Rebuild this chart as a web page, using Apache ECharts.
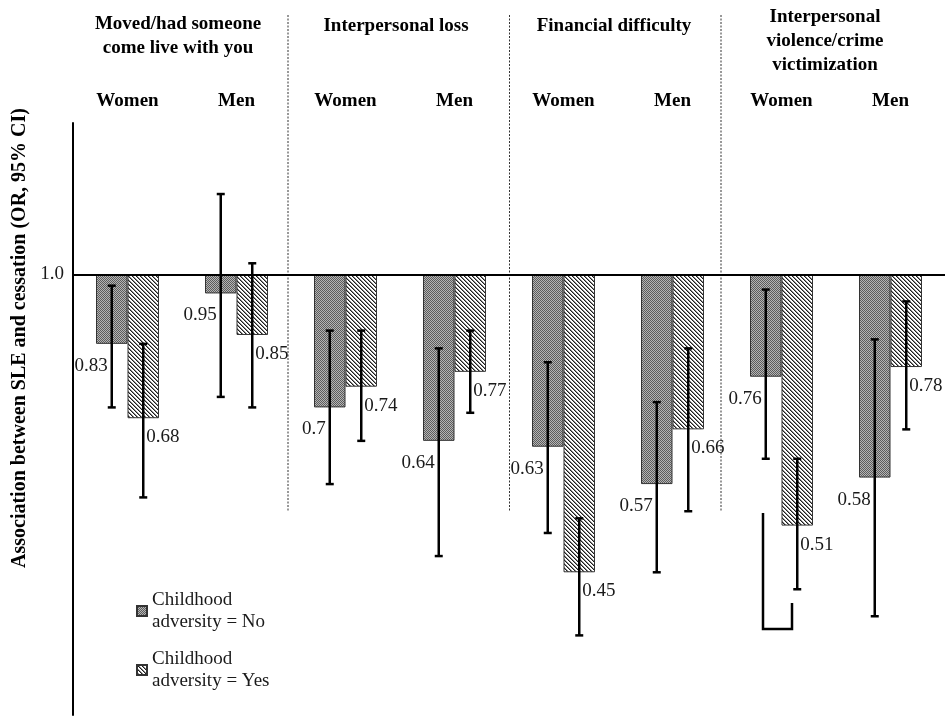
<!DOCTYPE html>
<html>
<head>
<meta charset="utf-8">
<script src="https://cdn.jsdelivr.net/npm/echarts@6/dist/echarts.min.js"></script>
<style>
  html, body { margin: 0; padding: 0; background: #fff; }
  #chart { width: 951px; height: 724px; }
</style>
</head>
<body>
<div id="chart"></div>
<script>
// Stressful-life-event categories (panel headers) and the sex groups under them
const panels = [
  'Moved/had someone\ncome live with you',
  'Interpersonal loss',
  'Financial difficulty',
  'Interpersonal\nviolence/crime\nvictimization'
];
const groups = ['Women', 'Men', 'Women', 'Men', 'Women', 'Men', 'Women', 'Men'];

// Odds ratios by childhood adversity
const orNo  = [0.83, 0.95, 0.7, 0.64, 0.63, 0.57, 0.76, 0.58];
const orYes = [0.68, 0.85, 0.74, 0.77, 0.45, 0.66, 0.51, 0.78];

// 95% confidence intervals
const ciNoLow   = [0.70, 0.72, 0.57, 0.47, 0.50, 0.45, 0.61, 0.40];
const ciNoHigh  = [0.97, 1.24, 0.86, 0.82, 0.79, 0.71, 0.96, 0.84];
const ciYesLow  = [0.55, 0.70, 0.64, 0.69, 0.38, 0.53, 0.43, 0.66];
const ciYesHigh = [0.83, 1.03, 0.86, 0.86, 0.52, 0.82, 0.61, 0.93];

// Reference line / only labelled tick on the log axis
const refValue = 1;
const refLabel = '1.0';

const seriesNames = ['Childhood\nadversity = No', 'Childhood\nadversity = Yes'];

const SERIF = "'Liberation Serif', 'DejaVu Serif', 'Times New Roman', serif";
const BAR_W = 31.5;
const CAP = 4;

// Small repeating textures for the bar fills
function makePattern(size, pick) {
  const c = document.createElement('canvas');
  c.width = size; c.height = size;
  const ctx = c.getContext('2d');
  const img = ctx.createImageData(size, size);
  for (let y = 0; y < size; y++) {
    for (let x = 0; x < size; x++) {
      const v = pick(x, y);
      const i = (y * size + x) * 4;
      img.data[i] = v; img.data[i + 1] = v; img.data[i + 2] = v; img.data[i + 3] = 255;
    }
  }
  ctx.putImageData(img, 0, 0);
  return { image: c, repeat: 'repeat' };
}
// fine dotted grey
const dotFill = makePattern(2, (x, y) => ((x + y) % 2 === 0 ? 0x5c : 0xb4));
// "\" diagonal hatching
const hatchFill = makePattern(4, (x, y) => {
  const d = ((x - y) % 4 + 4) % 4;
  return d === 0 ? 0x1e : d === 1 ? 0x8a : 0xff;
});

function errorBars(side) {
  return function (params, api) {
    const idx = api.value(0);
    const cx = api.coord([idx, refValue])[0] + side * BAR_W / 2;
    const yLo = api.coord([idx, api.value(1)])[1];
    const yHi = api.coord([idx, api.value(2)])[1];
    const style = { stroke: '#000', lineWidth: 2.5, fill: null };
    return {
      type: 'group',
      children: [
        { type: 'line', shape: { x1: cx, y1: yHi, x2: cx, y2: yLo }, style },
        { type: 'line', shape: { x1: cx - CAP, y1: yHi, x2: cx + CAP, y2: yHi }, style },
        { type: 'line', shape: { x1: cx - CAP, y1: yLo, x2: cx + CAP, y2: yLo }, style }
      ]
    };
  };
}

const ciNoData = groups.map((g, i) => [i, ciNoLow[i], ciNoHigh[i]]);
const ciYesData = groups.map((g, i) => [i, ciYesLow[i], ciYesHigh[i]]);

const valueLabel = {
  show: true,
  position: 'bottom',
  distance: 0,
  verticalAlign: 'middle',
  fontFamily: SERIF,
  fontSize: 19,
  color: '#1a1a1a',
  formatter: p => String(p.value)
};

// header text boxes are bottom-anchored; bottom padding lifts the shorter ones
const headerPadding = [[0, 8, 17, 0], [0, 8, 39, 0], [0, 8, 39, 0], [0, 22, 0, 0]];

const chart = echarts.init(document.getElementById('chart'), null, { renderer: 'canvas' });

// panel divider lines (dashed)
const dividerXs = [288, 509.5, 721];
const dividers = dividerXs.map(x => ({
  type: 'line',
  shape: { x1: x, y1: 15, x2: x, y2: 512 },
  style: { stroke: '#333', lineWidth: 1, lineDash: [2, 1.5] },
  z: 1
}));

chart.setOption({
  animation: false,
  backgroundColor: '#fff',
  grid: { left: 73, right: 6, top: 123, bottom: 9, containLabel: false, outerBoundsMode: 'none' },
  legend: {
    data: seriesNames,
    orient: 'vertical',
    left: 131,
    top: 573,
    itemWidth: 10,
    itemHeight: 10,
    itemGap: -7,
    icon: 'rect',
    selectedMode: false,
    textStyle: {
      fontFamily: SERIF,
      fontSize: 19,
      lineHeight: 22,
      color: '#1a1a1a',
      padding: [22, 0, 0, 0]
    }
  },
  xAxis: [
    {
      type: 'category',
      data: groups,
      position: 'top',
      axisLine: { show: false },
      axisTick: { show: false },
      axisLabel: {
        interval: 0,
        margin: 12,
        fontFamily: SERIF,
        fontWeight: 'bold',
        fontSize: 19,
        color: '#000'
      }
    },
    {
      type: 'category',
      data: panels.map((p, i) => ({ value: p, textStyle: { padding: headerPadding[i] } })),
      position: 'top',
      axisLine: { show: false },
      axisTick: { show: false },
      axisLabel: {
        interval: 0,
        margin: 46,
        lineHeight: 24,
        fontFamily: SERIF,
        fontWeight: 'bold',
        fontSize: 19,
        color: '#000'
      }
    }
  ],
  yAxis: {
    type: 'log',
    logBase: 10,
    min: 0.307,
    max: 1.5,
    name: 'Association between SLE and cessation (OR, 95% CI)',
    nameLocation: 'middle',
    nameGap: 42,
    nameTextStyle: {
      fontFamily: SERIF,
      fontWeight: 'bold',
      fontSize: 20,
      color: '#000',
      padding: [0, 0, 0, 162]
    },
    axisLine: { show: true, lineStyle: { color: '#000', width: 2 } },
    axisTick: { show: false },
    splitLine: { show: false },
    axisLabel: {
      margin: 9,
      fontFamily: SERIF,
      fontSize: 19,
      color: '#1a1a1a',
      showMinLabel: false,
      showMaxLabel: false,
      formatter: v => (Math.abs(v - refValue) < 1e-6 ? refLabel : '')
    }
  },
  series: [
    {
      name: seriesNames[0],
      type: 'bar',
      data: orNo,
      barWidth: BAR_W,
      barGap: '0%',
      itemStyle: { color: dotFill, borderColor: '#333', borderWidth: 1 },
      label: Object.assign({}, valueLabel, { align: 'right', offset: [-4, 22] }),
      markLine: {
        silent: true,
        symbol: ['none', 'none'],
        label: { show: false },
        lineStyle: { color: '#000', width: 2, type: 'solid' },
        data: [{ yAxis: refValue }],
        z: 5
      },
      z: 2
    },
    {
      name: seriesNames[1],
      type: 'bar',
      data: orYes,
      barWidth: BAR_W,
      barGap: '0%',
      itemStyle: { color: hatchFill, borderColor: '#333', borderWidth: 1 },
      label: Object.assign({}, valueLabel, { align: 'left', offset: [3, 19] }),
      z: 2
    },
    {
      name: 'CI No',
      type: 'custom',
      data: ciNoData,
      encode: { x: 0, y: [1, 2] },
      renderItem: errorBars(-1),
      silent: true,
      z: 4
    },
    {
      name: 'CI Yes',
      type: 'custom',
      data: ciYesData,
      encode: { x: 0, y: [1, 2] },
      renderItem: errorBars(1),
      silent: true,
      z: 4
    }
  ],
  graphic: dividers.concat([
    {
      type: 'polyline',
      shape: { points: [[763, 513], [763, 629], [792, 629], [792, 603]] },
      style: { stroke: '#000', lineWidth: 2.5, fill: null },
      z: 4
    }
  ])
});
</script>
</body>
</html>
